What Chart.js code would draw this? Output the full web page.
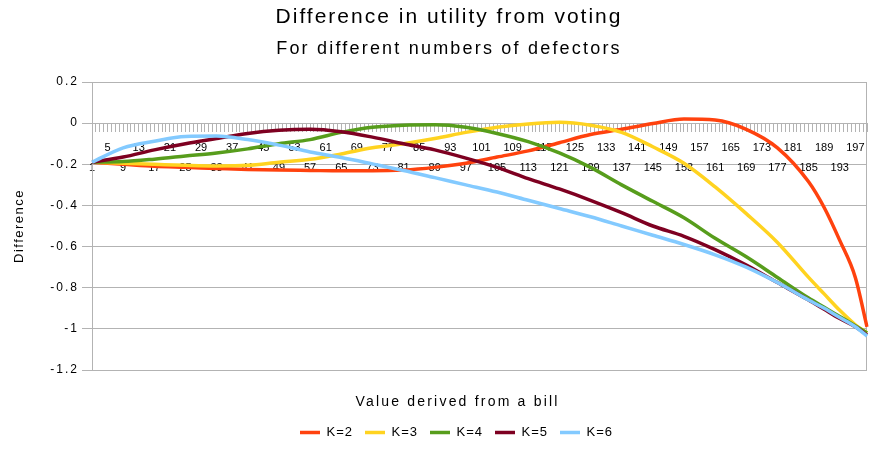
<!DOCTYPE html>
<html>
<head>
<meta charset="utf-8">
<script src="https://cdn.jsdelivr.net/npm/chart.js@4/dist/chart.umd.min.js"></script>
<style>
html, body { margin: 0; padding: 0; background: #ffffff; }
canvas { display: block; }
</style>
</head>
<body>
<canvas id="c" width="874" height="449"></canvas>
<script>
// ---- data ----
const categories = Array.from({length: 200}, (_, i) => String(i + 1));
const sampleAt = [1, 9, 17, 25, 33, 41, 49, 57, 65, 73, 81, 89, 97, 105, 113, 121, 129, 137, 145, 153, 161, 169, 177, 185, 189, 193, 197, 200];
const k2 = [-0.19, -0.2, -0.21, -0.215, -0.22, -0.225, -0.228, -0.23, -0.232, -0.232, -0.228, -0.215, -0.195, -0.165, -0.135, -0.095, -0.055, -0.03, -0.002, 0.02, 0.015, -0.03, -0.12, -0.285, -0.41, -0.57, -0.75, -0.99];
const k3 = [-0.19, -0.195, -0.2, -0.205, -0.208, -0.205, -0.19, -0.176, -0.15, -0.12, -0.1, -0.075, -0.045, -0.02, -0.004, 0.004, -0.01, -0.045, -0.115, -0.195, -0.31, -0.44, -0.58, -0.75, -0.83, -0.91, -0.98, -1.02];
const k4 = [-0.19, -0.187, -0.175, -0.16, -0.145, -0.125, -0.1, -0.08, -0.045, -0.02, -0.01, -0.008, -0.02, -0.05, -0.09, -0.145, -0.215, -0.3, -0.38, -0.46, -0.56, -0.65, -0.75, -0.85, -0.895, -0.94, -0.985, -1.02];
const k5 = [-0.19, -0.165, -0.13, -0.1, -0.075, -0.05, -0.035, -0.03, -0.042, -0.068, -0.1, -0.13, -0.17, -0.215, -0.27, -0.32, -0.375, -0.435, -0.5, -0.55, -0.615, -0.69, -0.775, -0.86, -0.905, -0.95, -0.99, -1.03];
const k6 = [-0.19, -0.12, -0.088, -0.065, -0.063, -0.08, -0.107, -0.14, -0.167, -0.198, -0.23, -0.265, -0.3, -0.335, -0.375, -0.415, -0.455, -0.5, -0.545, -0.59, -0.64, -0.7, -0.775, -0.86, -0.9, -0.945, -0.99, -1.035];
const seriesNames = ['K=2', 'K=3', 'K=4', 'K=5', 'K=6'];
const seriesValues = [k2, k3, k4, k5, k6];
const seriesColors = ['#ff420e', '#ffd320', '#579d1c', '#7e0021', '#83caff'];
const yMin = -1.2, yMax = 0.2, yStep = 0.2;
const titleText = 'Difference in utility from voting';
const subtitleText = 'For different numbers of defectors';
const xTitle = 'Value derived from a bill';
const yTitle = 'Difference';

// ---- chart ----
Chart.defaults.font.family = "'Liberation Sans', Arial, sans-serif";
Chart.defaults.color = '#000000';
const GRID = '#b3b3b3';

const datasets = seriesNames.map((name, s) => ({
  label: name,
  data: sampleAt.map((c, i) => ({x: String(c), y: seriesValues[s][i]})),
  borderColor: seriesColors[s],
  backgroundColor: seriesColors[s],
  borderWidth: 3.5,
  pointRadius: 0,
  fill: false,
  cubicInterpolationMode: 'monotone',
  order: seriesNames.length - s
}));

const textStyle = {
  id: 'textStyle',
  beforeDraw(chart) {
    if (chart.$styled) return;
    chart.$styled = true;
    const wrap = (obj, m, sp, dx) => {
      if (!obj || !obj[m]) return;
      const orig = obj[m];
      obj[m] = function (...args) {
        const ctx = this.ctx;
        ctx.save();
        if ('letterSpacing' in ctx) ctx.letterSpacing = sp + 'px';
        if (dx) ctx.translate(dx, 0);
        const r = orig.apply(this, args);
        ctx.restore();
        return r;
      };
    };
    const tb = chart.titleBlock;
    chart.boxes.forEach(b => {
      if (tb && b !== tb && b.constructor === tb.constructor) wrap(b, 'draw', 2.2, 0);
    });
    wrap(tb, 'draw', 2, 0);
    wrap(chart.legend, 'draw', 1, 0);
    wrap(chart.scales.y, 'drawTitle', 1.5, 0);
    wrap(chart.scales.y, 'drawLabels', 2, 0);
    wrap(chart.scales.x2, 'drawTitle', 2.2, -22);
  },
  beforeDatasetsDraw(chart) {
    const {ctx, chartArea: a} = chart;
    ctx.save();
    ctx.strokeStyle = GRID;
    ctx.lineWidth = 1;
    ctx.beginPath();
    const x = Math.round(a.right) - 0.5;
    ctx.moveTo(x, a.top);
    ctx.lineTo(x, a.bottom);
    ctx.stroke();
    ctx.restore();
  }
};

new Chart(document.getElementById('c'), {
  type: 'line',
  data: { labels: categories, datasets },
  options: {
    responsive: false,
    animation: false,
    devicePixelRatio: 1,
    layout: { padding: { left: 26, right: 2, top: 0, bottom: 0 } },
    plugins: {
      title: {
        display: true, text: titleText,
        font: { size: 21, weight: 'normal' },
        color: '#000', padding: { top: 5, bottom: 0 }
      },
      subtitle: {
        display: true, text: subtitleText,
        font: { size: 18, weight: 'normal' },
        color: '#000', padding: { top: 7.6, bottom: 22.6 }
      },
      legend: {
        position: 'bottom',
        labels: {
          usePointStyle: true, pointStyle: 'line', pointStyleWidth: 20,
          font: { size: 13 }, padding: 12, color: '#000',
          sort: (a, b) => a.datasetIndex - b.datasetIndex
        }
      },
      tooltip: { enabled: false }
    },
    scales: {
      x: {
        type: 'category', axis: 'x',
        position: { y: 0 },
        grid: { display: true, drawOnChartArea: false, drawTicks: true, tickLength: 8, color: GRID },
        border: { display: true, color: GRID },
        ticks: {
          autoSkip: false, maxRotation: 0, minRotation: 0, padding: 7,
          font: { size: 11, lineHeight: '20px' }, color: '#000',
          callback: function (value, index) {
            if (index % 4 !== 0) return '';
            const lbl = this.getLabelForValue(value);
            return (index / 4) % 2 === 0 ? ['', lbl] : lbl;
          }
        }
      },
      x2: {
        type: 'category', axis: 'x', position: 'bottom',
        grid: { display: false, drawTicks: false },
        border: { display: false },
        ticks: { display: false },
        title: { display: true, text: xTitle, font: { size: 14 }, color: '#000', padding: { top: 0, bottom: 3.6 } },
        afterFit(s) { s.height = 44; }
      },
      y: {
        type: 'linear', position: 'left',
        min: yMin, max: yMax,
        grid: { color: GRID, tickLength: 10, drawTicks: true },
        border: { display: true, color: GRID },
        ticks: {
          stepSize: yStep, padding: 3, font: { size: 12 }, color: '#000',
          callback: v => { const n = Number(v.toFixed(1)); return (n === 0 ? 0 : n).toString(); }
        },
        title: { display: true, text: yTitle, font: { size: 13 }, color: '#000', padding: { top: -14.8, bottom: 0 } },
        afterFit(s) { s.width = 66; }
      }
    }
  },
  plugins: [textStyle]
});
</script>
</body>
</html>
